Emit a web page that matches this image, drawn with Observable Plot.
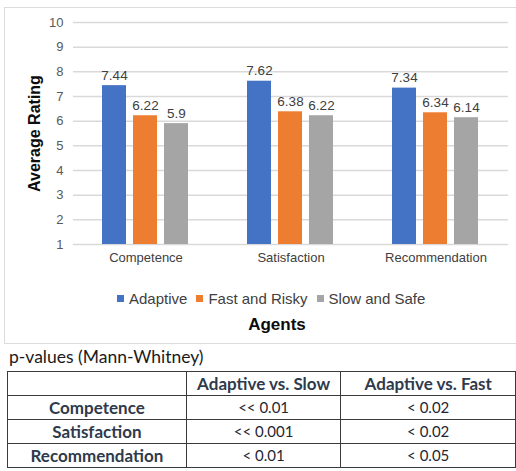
<!DOCTYPE html>
<html>
<head>
<meta charset="utf-8">
<script src="https://cdn.jsdelivr.net/npm/d3@7"></script>
<script src="https://cdn.jsdelivr.net/npm/@observablehq/plot@0.6"></script>
<style>
  html, body { margin: 0; padding: 0; background: #fff; width: 516px; height: 471px; overflow: hidden; position: relative; }
  #frame { position: absolute; left: 4px; top: 7px; width: 600px; height: 337px; border: 1.5px solid #dcdcdc; box-sizing: border-box; }
  #chart { position: absolute; left: 0; top: 0; }
  #legend { position: absolute; left: 117px; top: 282px; }
  #legend * { font-family: "Liberation Sans", Arial, sans-serif !important; font-size: 15px !important; color: #404040 !important; }
  #legend span > svg { margin-right: 5px !important; }
  #legend span { margin-right: 9px !important; }
  #agents { position: absolute; left: 177px; width: 200px; text-align: center; top: 314px; font: bold 17px "Liberation Sans", Arial, sans-serif; color: #0d0d0d; line-height: 22px; }
  #ptitle { position: absolute; left: 9px; top: 347px; font: 17.5px Lato, sans-serif; color: #1a1a1a; line-height: 20px; }
  #ptable { position: absolute; left: 7px; top: 371px; border-collapse: collapse; font-family: Lato, sans-serif; color: #2f3a4c; }
  #ptable td, #ptable th { border: 1.5px solid #3a3a3a; height: 23px; padding: 0; text-align: center; line-height: 23px; }
  #ptable th { font-weight: bold; font-size: 17px; }
  #ptable td { font-weight: normal; font-size: 15px; color: #1f2633; }
</style>
</head>
<body>
<div id="frame"></div>
<div id="chart"></div>
<div id="legend"></div>
<div id="agents">Agents</div>
<div id="ptitle">p-values (Mann-Whitney)</div>
<table id="ptable"></table>
<script>
const categories = ["Competence", "Satisfaction", "Recommendation"];
const agents = ["Adaptive", "Fast and Risky", "Slow and Safe"];
const adaptive = [7.44, 7.62, 7.34];
const fastRisky = [6.22, 6.38, 6.34];
const slowSafe = [5.9, 6.22, 6.14];
const yTicks = [1, 2, 3, 4, 5, 6, 7, 8, 9, 10];
const colors = ["#4472C4", "#ED7D31", "#A5A5A5"];
const yLabel = ["Average Rating"];

const pColumns = ["Adaptive vs. Slow", "Adaptive vs. Fast"];
const pRows = ["Competence", "Satisfaction", "Recommendation"];
const pVsSlow = ["<< 0.01", "<< 0.001", "< 0.01"];
const pVsFast = ["< 0.02", "< 0.02", "< 0.05"];

const series = [adaptive, fastRisky, slowSafe];
const rows = categories.flatMap((c, i) => agents.map((a, j) => ({category: c, agent: a, value: series[j][i]})));

const chart = Plot.plot({
  width: 516,
  height: 270,
  marginLeft: 72,
  marginRight: 8,
  marginTop: 22,
  marginBottom: 26,
  style: {fontFamily: "'Liberation Sans', Arial, sans-serif", fontSize: "13px", color: "#595959", background: "transparent"},
  fx: {domain: categories, padding: 0},
  x: {domain: agents, paddingInner: 0.22, paddingOuter: 0.88, axis: null},
  y: {domain: [1, 10]},
  color: {domain: agents, range: colors},
  marks: [
    Plot.gridY(yTicks, {stroke: "#d9d9d9", strokeOpacity: 1, strokeWidth: 1.5}),
    Plot.axisY(yTicks, {tickSize: 0, tickPadding: 10, label: null, color: "#595959"}),
    Plot.axisFx({anchor: "bottom", tickSize: 0, tickPadding: 8, label: null, color: "#404040"}),
    Plot.barY(rows, {fx: "category", x: "agent", y1: 1, y2: "value", fill: "agent"}),
    Plot.text(rows, {fx: "category", x: "agent", y: "value", text: d => String(d.value), lineAnchor: "bottom", dy: -6, fill: "#404040", fontSize: 13.5}),
    Plot.text(yLabel, {fx: () => categories[0], frameAnchor: "left", dx: -39, rotate: -90, textAnchor: "middle", lineAnchor: "middle", fontWeight: "bold", fontSize: 16, fill: "#0d0d0d", text: d => d})
  ]
});
document.getElementById("chart").append(chart);

const legend = Plot.legend({color: {domain: agents, range: colors}, legend: "swatches", swatchSize: 7});
document.getElementById("legend").append(legend);

const table = d3.select("#ptable");
const widths = [178, 154, 174];
const head = table.append("tr");
head.append("th").style("width", widths[0] + "px");
pColumns.forEach((c, i) => head.append("th").style("width", widths[i + 1] + "px").text(c));
pRows.forEach((r, i) => {
  const tr = table.append("tr");
  tr.append("th").text(r);
  tr.append("td").text(pVsSlow[i]);
  tr.append("td").text(pVsFast[i]);
});
</script>
</body>
</html>
